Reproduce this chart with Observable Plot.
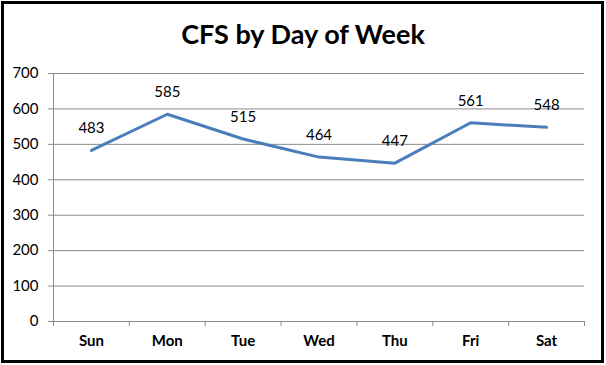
<!DOCTYPE html>
<html>
<head>
<meta charset="utf-8">
<script src="https://cdn.jsdelivr.net/npm/d3@7"></script>
<script src="https://cdn.jsdelivr.net/npm/@observablehq/plot@0.6"></script>
<style>
  html, body { margin: 0; padding: 0; background: #fff; }
  #wrap { position: relative; width: 606px; height: 365px; overflow: hidden; }
  #frame { position: absolute; left: 1px; top: 1px; width: 597px; height: 356px; border: 3px solid #000; pointer-events: none; }
  #title { position: absolute; left: 0; top: 17px; width: 606px; text-align: center; font-family: Lato, "Open Sans", sans-serif; font-weight: bold; font-size: 27px; color: #000; }
  #chart { position: absolute; left: 0; top: 0; }
</style>
</head>
<body>
<div id="wrap">
  <div id="chart"></div>
  <div id="title">CFS by Day of Week</div>
  <div id="frame"></div>
</div>
<script>
const days = ["Sun", "Mon", "Tue", "Wed", "Thu", "Fri", "Sat"];
const cfs = [483, 585, 515, 464, 447, 561, 548];
const yTicks = [0, 100, 200, 300, 400, 500, 600, 700];

const data = days.map((d, i) => ({day: d, idx: i + 0.5, value: cfs[i]}));
const grid = "#8a8a8a";
const font = "Lato, 'Open Sans', sans-serif";

const plot = Plot.plot({
  width: 606,
  height: 365,
  marginLeft: 53,
  marginRight: 22,
  marginTop: 73,
  marginBottom: 44,
  style: {fontFamily: font, fontSize: "14px", color: "#000", background: "transparent"},
  x: {type: "linear", domain: [0, days.length]},
  y: {domain: [0, 700]},
  marks: [
    Plot.ruleY(yTicks, {stroke: grid, strokeWidth: 1, strokeOpacity: 1}),
    Plot.ruleX([0], {stroke: grid, strokeWidth: 1}),
    Plot.axisY({ticks: yTicks, tickSize: 5, tickPadding: 10, stroke: grid, strokeOpacity: 1, fontSize: 15, label: null, tickFormat: d => String(d)}),
    Plot.axisX({ticks: d3.range(days.length + 1), tickSize: 5, stroke: grid, strokeOpacity: 1, tickFormat: () => "", label: null}),
    Plot.axisX({ticks: data.map(d => d.idx), tickSize: 0, tickPadding: 14, tickFormat: v => days[Math.floor(v)], fontWeight: "bold", fontSize: 15, label: null}),
    Plot.line(data, {x: "idx", y: "value", stroke: "#4a7ebb", strokeWidth: 3}),
    Plot.text(data, {x: "idx", y: "value", text: d => String(d.value), dy: -22, fontSize: 15, fill: "#000"})
  ]
});
document.getElementById("chart").appendChild(plot);
</script>
</body>
</html>
